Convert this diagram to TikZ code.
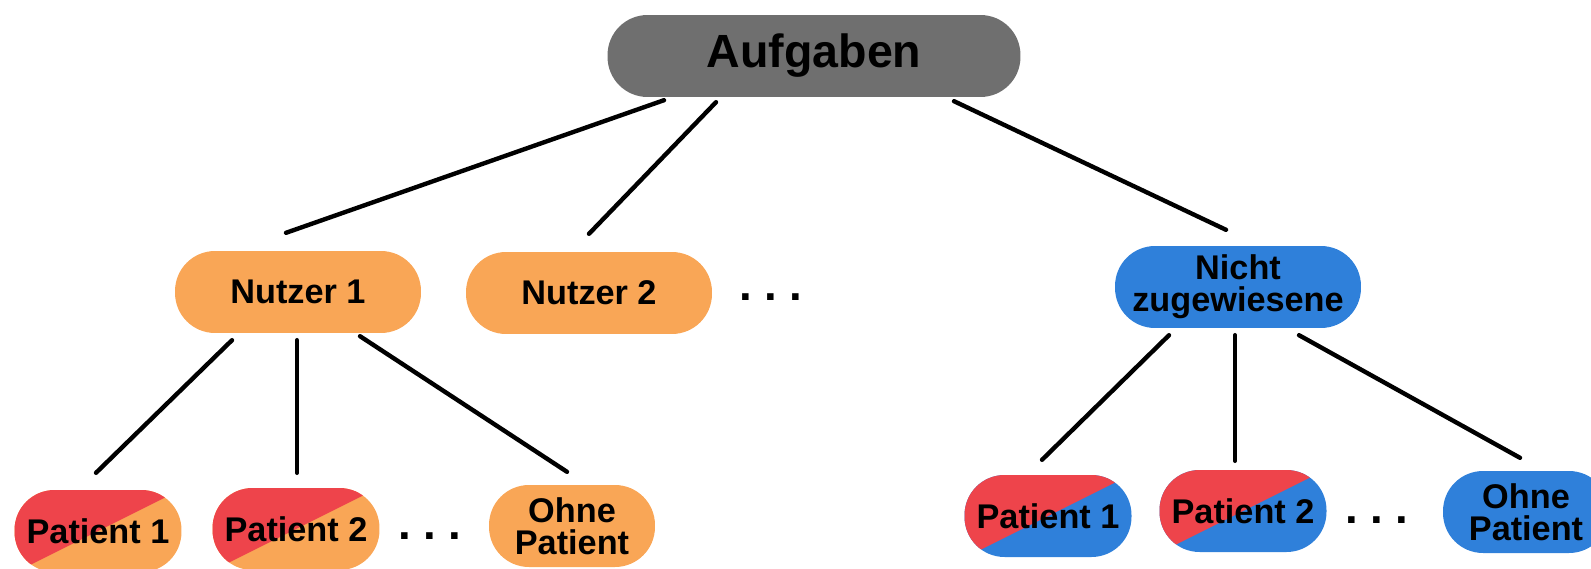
\documentclass[tikz,border=0pt]{standalone}
\usepackage{fontspec}
\setmainfont{Liberation Sans}

\definecolor{taskgray}{HTML}{6F6F6F}
\definecolor{userorange}{HTML}{F9A656}
\definecolor{patred}{HTML}{EE444B}
\definecolor{openblue}{HTML}{2F80DA}

\tikzset{
  pill/.style={rounded corners=0.8cm, minimum height=1.64cm, inner sep=0pt, align=center,
    font=\fontsize{19.5}{18}\selectfont\bfseries},
  taskbox/.style={pill, fill=taskgray, minimum width=8.26cm,
    font=\fontsize{26.5}{30}\selectfont\bfseries},
  userbox/.style={pill, fill=#1, minimum width=4.92cm},
  patbox/.style={pill, fill=#1, minimum width=3.34cm,
    path picture={\fill[patred]
      ([shift={(-4cm,-2cm)}]path picture bounding box.center) --
      ([shift={(4cm,2cm)}]path picture bounding box.center) --
      ([shift={(-4cm,2cm)}]path picture bounding box.center) -- cycle;}},
  nopatbox/.style={pill, fill=#1, minimum width=3.32cm},
  more/.style={inner sep=0pt, font=\fontsize{26}{26}\selectfont\bfseries}
}

\begin{document}
\begin{tikzpicture}[x=0.02cm, y=-0.02cm, line width=2.5pt, line cap=round]
    \useasboundingbox (0,0) rectangle (1591,568);
    \node (top) [taskbox] at (814,56) {Aufgaben};
    \node (n1) [userbox=userorange] at (298,292) {Nutzer 1};
    \node (n2) [userbox=userorange] at (589,293) {Nutzer 2};
    \node (udots) [more] at (771,297) {.\hspace{7pt}.\hspace{7pt}.};
    \node (nz) [userbox=openblue] at (1238,287) {Nicht\\zugewiesene};
    \node (lp1) [patbox=userorange] at (98,531) {Patient 1};
    \node (lp2) [patbox=userorange] at (296,529) {Patient 2};
    \node (ldots) [more] at (430,536) {.\hspace{7pt}.\hspace{7pt}.};
    \node (lop) [nopatbox=userorange] at (572,526) {Ohne\\Patient};
    \node (rp1) [patbox=openblue] at (1048,516) {Patient 1};
    \node (rp2) [patbox=openblue] at (1243,511) {Patient 2};
    \node (rdots) [more] at (1377,520) {.\hspace{7pt}.\hspace{7pt}.};
    \node (rop) [nopatbox=openblue] at (1526,512) {Ohne\\Patient};
    \path
    ([shift={(-150,1)}]top.south) edge ([shift={(-12,-16)}]n1.north)
    ([shift={(-98,3)}]top.south) edge ([shift={(0,-16)}]n2.north)
    ([shift={(140,2)}]top.south) edge ([shift={(-12,-14)}]nz.north)
    ([shift={(-66,5)}]n1.south) edge ([shift={(-2,-15)}]lp1.north)
    ([shift={(-1,5)}]n1.south) edge ([shift={(1,-13)}]lp2.north)
    ([shift={(62,1)}]n1.south) edge ([shift={(-5,-11)}]lop.north)
    ([shift={(-69,5)}]nz.south) edge ([shift={(-6,-13)}]rp1.north)
    ([shift={(-3,5)}]nz.south) edge ([shift={(-8,-7)}]rp2.north)
    ([shift={(61,5)}]nz.south) edge ([shift={(-6,-11)}]rop.north)
    ;
\end{tikzpicture}
\end{document}
